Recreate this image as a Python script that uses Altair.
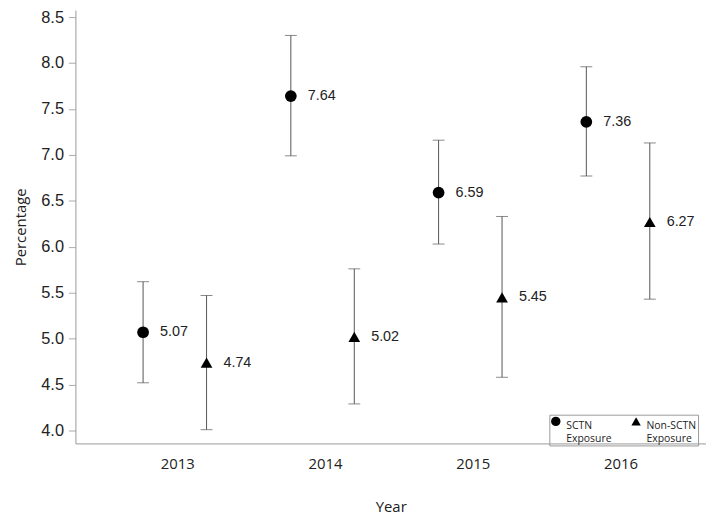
import altair as alt
import pandas as pd

years = ["2013", "2014", "2015", "2016"]
groups = ["SCTN Exposure", "Non-SCTN Exposure"]
sctn_val = [5.07, 7.64, 6.59, 7.36]
sctn_lo = [4.52, 6.99, 6.03, 6.77]
sctn_hi = [5.62, 8.30, 7.16, 7.96]
non_val = [4.74, 5.02, 5.45, 6.27]
non_lo = [4.01, 4.29, 4.58, 5.43]
non_hi = [5.47, 5.76, 6.33, 7.13]
y_ticks = [4.0, 4.5, 5.0, 5.5, 6.0, 6.5, 7.0, 7.5, 8.0, 8.5]

rows = []
for i, yr in enumerate(years):
    rows.append(dict(Year=yr, group=groups[0], val=sctn_val[i], lo=sctn_lo[i], hi=sctn_hi[i]))
    rows.append(dict(Year=yr, group=groups[1], val=non_val[i], lo=non_lo[i], hi=non_hi[i]))
df = pd.DataFrame(rows)

x = alt.X("Year:N", title="Year",
          scale=alt.Scale(paddingInner=0, paddingOuter=0.134, align=0.72),
          axis=alt.Axis(labelAngle=0, ticks=False, labelPadding=13, labelFontSize=15,
                        labelFont="Open Sans", labelColor="#222", titleFont="Open Sans",
                        titleFontSize=15, titleFontWeight="normal", titleColor="#222",
                        titlePadding=29, domainColor="#999"))
xo = alt.XOffset("group:N", scale=alt.Scale(domain=groups, range=[7.5, 135.5], paddingInner=0, paddingOuter=0))
yscale = alt.Scale(domain=[3.86, 8.575], nice=False, zero=False)

base = alt.Chart(df)

rule = base.mark_rule(color="#555", strokeWidth=1).encode(
    x=x, xOffset=xo,
    y=alt.Y("lo:Q", scale=yscale, title="Percentage",
            axis=alt.Axis(values=y_ticks, format=".1f", grid=False, tickSize=7, tickColor="#aaa",
                          labelPadding=5, labelFontSize=16.5, labelFont="Liberation Sans",
                          labelColor="#222", titleFont="Open Sans", titleFontSize=15,
                          titleFontWeight="normal", titleColor="#222", titlePadding=12,
                          domainColor="#999")),
    y2="hi:Q",
)
cap_lo = base.mark_tick(color="#555", size=12, thickness=1).encode(
    x=x, xOffset=xo, y=alt.Y("lo:Q", scale=yscale))
cap_hi = base.mark_tick(color="#555", size=12, thickness=1).encode(
    x=x, xOffset=xo, y=alt.Y("hi:Q", scale=yscale))

pts = base.mark_point(filled=True, color="black", opacity=1).encode(
    x=x, xOffset=xo, y=alt.Y("val:Q", scale=yscale),
    shape=alt.Shape("group:N", scale=alt.Scale(domain=groups, range=["circle", "triangle-up"]),
                    legend=alt.Legend(orient="none", legendX=478, legendY=408, direction="horizontal",
                                      title=None, strokeColor="#999", padding=1,
                                      labelFont="Open Sans", labelFontSize=10.5, labelColor="#222",
                                      labelExpr="split(datum.label, ' ')", labelBaseline="top",
                                      symbolFillColor="black", symbolStrokeColor="black",
                                      symbolSize=90, columnPadding=16, labelOffset=5)),
    size=alt.value(140),
)
labels = base.mark_text(align="left", dx=17, fontSize=14.5, font="Liberation Sans", color="#222").encode(
    x=x, xOffset=xo, y=alt.Y("val:Q", scale=yscale),
    text=alt.Text("val:Q", format=".2f"))

chart = alt.layer(rule, cap_lo, cap_hi, pts, labels).properties(
    width=636, height=437,
    autosize=alt.AutoSizeParams(type="none"),
    padding={"left": 68, "top": 0, "right": 0, "bottom": 70},
).configure(view=alt.ViewConfig(stroke=None), style={"guide-label": {"lineHeight": 12.5}})

chart.save("out.html", embed_options={"renderer": "svg", "actions": False})
